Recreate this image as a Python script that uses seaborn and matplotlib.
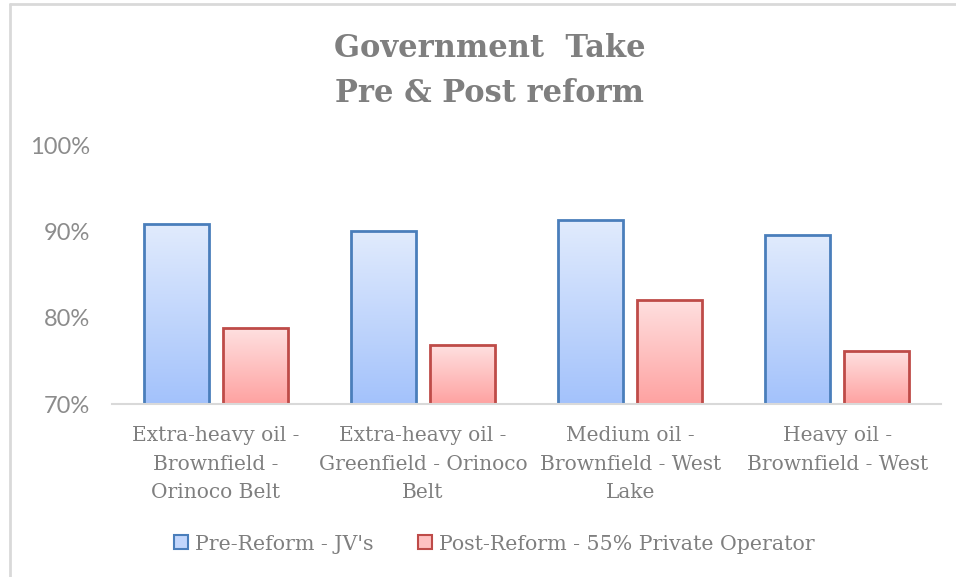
import numpy as np
import pandas as pd
import matplotlib
matplotlib.use("Agg")
import matplotlib.pyplot as plt
from matplotlib.colors import LinearSegmentedColormap
from matplotlib.lines import Line2D
from matplotlib.patches import Patch
from matplotlib.ticker import PercentFormatter
import seaborn as sns

# Government take by field type, before and after the reform (percent)
categories = [
    "Extra-heavy oil -\nBrownfield -\nOrinoco Belt",
    "Extra-heavy oil -\nGreenfield - Orinoco\nBelt",
    "Medium oil -\nBrownfield - West\nLake",
    "Heavy oil -\nBrownfield - West",
]
series_names = ["Pre-Reform - JV's", "Post-Reform - 55% Private Operator"]
pre_reform = [90.8, 90.0, 91.3, 89.6]
post_reform = [78.8, 76.8, 82.1, 76.1]
y_ticks = [70, 80, 90, 100]

df = pd.DataFrame({
    "category": categories * 2,
    "series": [series_names[0]] * 4 + [series_names[1]] * 4,
    "value": pre_reform + post_reform,
})

sns.set_theme(style="white")
serif = ["DejaVu Serif"]
sans = ["Lato", "DejaVu Sans"]
grey = "#7f7f7f"

edge_colors = {series_names[0]: "#4a7ebb", series_names[1]: "#be4b48"}
grad_colors = {
    series_names[0]: ("#a3c2fb", "#e1ebfd"),   # bottom, top
    series_names[1]: ("#ffa2a1", "#fee0e0"),
}

fig = plt.figure(figsize=(9.56, 5.77), dpi=100)
ax = fig.add_axes([112 / 956, 1 - 404 / 577, (941 - 112) / 956, (404 - 145) / 577])

sns.barplot(data=df, x="category", y="value", hue="series",
            hue_order=series_names, order=categories,
            width=0.764, gap=0.178, ax=ax, legend=False,
            palette=[edge_colors[s] for s in series_names])

ax.set_ylim(70, 100)
xlim = ax.get_xlim()

# Gradient fill clipped to each bar
for container, name in zip(ax.containers, series_names):
    bottom_c, top_c = grad_colors[name]
    cmap = LinearSegmentedColormap.from_list(name, [bottom_c, top_c])
    grad = np.linspace(0, 1, 256).reshape(-1, 1)
    for patch in container.patches:
        x0, w = patch.get_x(), patch.get_width()
        top = patch.get_y() + patch.get_height()
        im = ax.imshow(grad, extent=(x0, x0 + w, 70, top), origin="lower",
                       cmap=cmap, aspect="auto", zorder=1.5)
        im.set_clip_path(patch)
        patch.set_facecolor("none")
        patch.set_edgecolor(edge_colors[name])
        patch.set_linewidth(2.0)
        patch.set_zorder(2)

ax.set_xlim(xlim)
ax.set_ylim(70, 100)
ax.set_yticks(y_ticks)
ax.yaxis.set_major_formatter(PercentFormatter(xmax=100, decimals=0))
ax.set_xlabel("")
ax.set_ylabel("")

for s in ["top", "right", "left"]:
    ax.spines[s].set_visible(False)
ax.spines["bottom"].set_color("#d9d9d9")
ax.spines["bottom"].set_linewidth(1.5)

ax.tick_params(axis="both", length=0)
ax.tick_params(axis="y", pad=16, labelsize=17, labelcolor="#8c8c8c")
ax.tick_params(axis="x", pad=16, labelsize=14.5, labelcolor=grey)
for lbl in ax.get_yticklabels():
    lbl.set_family(sans)
for lbl in ax.get_xticklabels():
    lbl.set_family(serif)
    lbl.set_linespacing(1.62)

fig.text(0.512, 1 - 71 / 577, "Government  Take\nPre & Post reform",
         ha="center", va="center", fontsize=22, fontweight="bold",
         color=grey, family=serif, linespacing=1.58)

handles = [Patch(facecolor="#c2d6fc", edgecolor=edge_colors[series_names[0]], linewidth=1.5),
           Patch(facecolor="#fec1c1", edgecolor=edge_colors[series_names[1]], linewidth=1.5)]
fig.legend(handles, series_names, loc="center", bbox_to_anchor=(0.517, 1 - 544 / 577),
           ncol=2, frameon=False, handlelength=0.68, handleheight=0.68,
           handletextpad=0.34, columnspacing=2.2,
           prop={"family": serif, "size": 14.75}, labelcolor=grey)

# Chart frame lines on top and left
fig.add_artist(Line2D([10 / 956, 1], [1 - 4 / 577, 1 - 4 / 577], color="#d9d9d9", lw=2,
                      transform=fig.transFigure))
fig.add_artist(Line2D([10 / 956, 10 / 956], [0, 1 - 4 / 577], color="#d9d9d9", lw=2,
                      transform=fig.transFigure))

fig.savefig("out.png", dpi=100, facecolor="white")
